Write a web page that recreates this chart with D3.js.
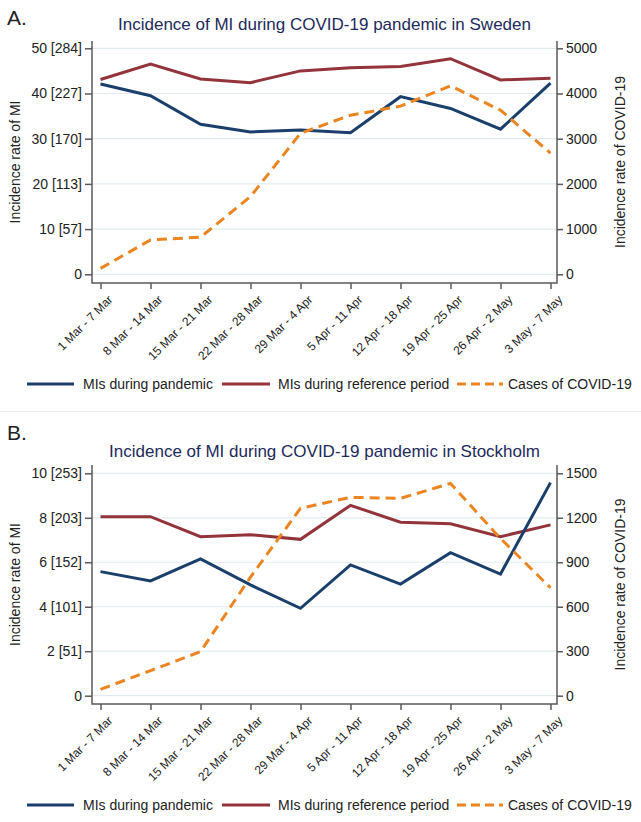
<!DOCTYPE html>
<html lang="en">
<head>
<meta charset="utf-8">
<style>
  body { margin: 0; background: #fff; font-family: 'Liberation Sans', Arial, Helvetica, sans-serif; }
  svg text { fill: #222; }
</style>
</head>
<body>
<div id="chart"></div>
<script src="https://d3js.org/d3.v7.min.js"></script>
<script>
// week labels
const weeks = ['1 Mar - 7 Mar', '8 Mar - 14 Mar', '15 Mar - 21 Mar', '22 Mar - 28 Mar', '29 Mar - 4 Apr',
  '5 Apr - 11 Apr', '12 Apr - 18 Apr', '19 Apr - 25 Apr', '26 Apr - 2 May', '3 May - 7 May'];

// Sweden
const swePandemic = [42.1, 39.5, 33.2, 31.5, 31.9, 31.3, 39.3, 36.7, 32.1, 42.3];
const sweReference = [43.1, 46.5, 43.2, 42.4, 45.0, 45.7, 46.0, 47.7, 43.0, 43.4];
const sweCovid = [130, 760, 820, 1720, 3120, 3520, 3720, 4170, 3630, 2680];
const sweLeftTicks = [0, 10, 20, 30, 40, 50];
const sweLeftLabels = ['0', '10 [57]', '20 [113]', '30 [170]', '40 [227]', '50 [284]'];
const sweRightTicks = [0, 1000, 2000, 3000, 4000, 5000];

// Stockholm
const sthPandemic = [5.58, 5.16, 6.15, 4.98, 3.93, 5.88, 5.02, 6.43, 5.47, 9.58];
const sthReference = [8.05, 8.05, 7.15, 7.24, 7.03, 8.56, 7.80, 7.73, 7.15, 7.68];
const sthCovid = [43, 169, 297, 800, 1264, 1338, 1331, 1432, 1060, 728];
const sthLeftTicks = [0, 2, 4, 6, 8, 10];
const sthLeftLabels = ['0', '2 [51]', '4 [101]', '6 [152]', '8 [203]', '10 [253]'];
const sthRightTicks = [0, 300, 600, 900, 1200, 1500];

const legendNames = ['MIs during pandemic', 'MIs during reference period', 'Cases of COVID-19'];

const NAVY = '#1a3f6b', MAROON = '#93343c', ORANGE = '#ea8522', GRID = '#e2ebf0', AXIS = '#5a5a5a';

const svg = d3.select('#chart').append('svg')
  .attr('width', 641).attr('height', 822);

// faint separator between the two panels
svg.append('line').attr('x1', 0).attr('x2', 641).attr('y1', 411.5).attr('y2', 411.5)
  .attr('stroke', '#eef1f3').attr('stroke-width', 1);

function panel(o) {
  const g = svg.append('g');
  const x = d3.scalePoint().domain(weeks).range([100.5, 550.5]);
  const yL = d3.scaleLinear().domain([0, o.leftMax]).range([o.y0, o.y1]);
  const yR = d3.scaleLinear().domain([0, o.rightMax]).range([o.y0, o.y1]);

  // letter + title
  g.append('text').attr('x', 7).attr('y', o.letterY).text(o.letter)
    .style('font-size', '21px');
  g.append('text').attr('x', 324.5).attr('y', o.titleY).attr('text-anchor', 'middle')
    .text(o.title).style('font-size', '17px').style('fill', '#1e2a5c');

  // gridlines
  g.selectAll('.grid').data(o.leftTicks).enter().append('line')
    .attr('x1', 92).attr('x2', 557)
    .attr('y1', d => yL(d)).attr('y2', d => yL(d))
    .attr('stroke', GRID).attr('stroke-width', 1.2);

  // axis frame
  g.append('path')
    .attr('d', `M92,${o.axisTop}V${o.axisBottom}H557V${o.axisTop}`)
    .attr('fill', 'none').attr('stroke', AXIS).attr('stroke-width', 1.5);

  const left = g.append('g').attr('transform', 'translate(92,0)')
    .call(d3.axisLeft(yL).tickValues(o.leftTicks).tickSize(7).tickPadding(3)
      .tickFormat((d, i) => o.leftLabels[i]));
  const right = g.append('g').attr('transform', 'translate(557,0)')
    .call(d3.axisRight(yR).tickValues(o.rightTicks).tickSize(6).tickPadding(3)
      .tickFormat(d3.format('d')));
  const bottom = g.append('g').attr('transform', `translate(0,${o.axisBottom})`)
    .call(d3.axisBottom(x).tickSize(6).tickPadding(3));

  [left, right, bottom].forEach(a => {
    a.select('.domain').remove();
    a.selectAll('.tick line').attr('stroke', AXIS).attr('stroke-width', 1.5);
    a.selectAll('text').style('font-family', "'Liberation Sans', Arial, sans-serif").attr('fill', '#222');
  });
  left.selectAll('text').style('font-size', '14px');
  right.selectAll('text').style('font-size', '14px');
  bottom.selectAll('text').style('font-size', '12px')
    .attr('text-anchor', 'end')
    .attr('dy', '0.35em')
    .attr('transform', 'translate(3,8) rotate(-45)');

  // axis titles
  const midY = (o.axisTop + o.axisBottom) / 2;
  g.append('text').attr('transform', `translate(20,${midY}) rotate(-90)`)
    .attr('text-anchor', 'middle').style('font-size', '14px').text('Incidence rate of MI');
  g.append('text').attr('transform', `translate(625,${midY}) rotate(-90)`)
    .attr('text-anchor', 'middle').style('font-size', '14px').text('Incidence rate of COVID-19');

  // series
  const lineL = d3.line().x((d, i) => x(weeks[i])).y(d => yL(d));
  const lineR = d3.line().x((d, i) => x(weeks[i])).y(d => yR(d));
  g.append('path').datum(o.reference).attr('d', lineL)
    .attr('fill', 'none').attr('stroke', MAROON).attr('stroke-width', 3);
  g.append('path').datum(o.pandemic).attr('d', lineL)
    .attr('fill', 'none').attr('stroke', NAVY).attr('stroke-width', 3);
  g.append('path').datum(o.covid).attr('d', lineR)
    .attr('fill', 'none').attr('stroke', ORANGE).attr('stroke-width', 3)
    .attr('stroke-dasharray', '10,6');

  // legend
  const items = [
    { name: legendNames[0], color: NAVY, dash: null, x0: 27, x1: 74, tx: 83 },
    { name: legendNames[1], color: MAROON, dash: null, x0: 222, x1: 270, tx: 278 },
    { name: legendNames[2], color: ORANGE, dash: '9,5', x0: 457, x1: 503, tx: 508 }
  ];
  const leg = g.append('g').attr('transform', `translate(0,${o.legendY})`);
  items.forEach(it => {
    leg.append('line').attr('x1', it.x0).attr('x2', it.x1).attr('y1', 0).attr('y2', 0)
      .attr('stroke', it.color).attr('stroke-width', 3)
      .attr('stroke-dasharray', it.dash);
    leg.append('text').attr('x', it.tx).attr('y', 0).attr('dy', '0.35em')
      .style('font-size', '14px').text(it.name);
  });
}

panel({
  letter: 'A.', letterY: 25, title: 'Incidence of MI during COVID-19 pandemic in Sweden', titleY: 30,
  leftMax: 50, rightMax: 5000, y0: 274.3, y1: 48.3, axisTop: 41, axisBottom: 283,
  leftTicks: sweLeftTicks, leftLabels: sweLeftLabels, rightTicks: sweRightTicks,
  pandemic: swePandemic, reference: sweReference, covid: sweCovid, legendY: 384
});

panel({
  letter: 'B.', letterY: 440, title: 'Incidence of MI during COVID-19 pandemic in Stockholm', titleY: 457,
  leftMax: 10, rightMax: 1500, y0: 695.7, y1: 473.3, axisTop: 465, axisBottom: 704,
  leftTicks: sthLeftTicks, leftLabels: sthLeftLabels, rightTicks: sthRightTicks,
  pandemic: sthPandemic, reference: sthReference, covid: sthCovid, legendY: 805
});
</script>
</body>
</html>
